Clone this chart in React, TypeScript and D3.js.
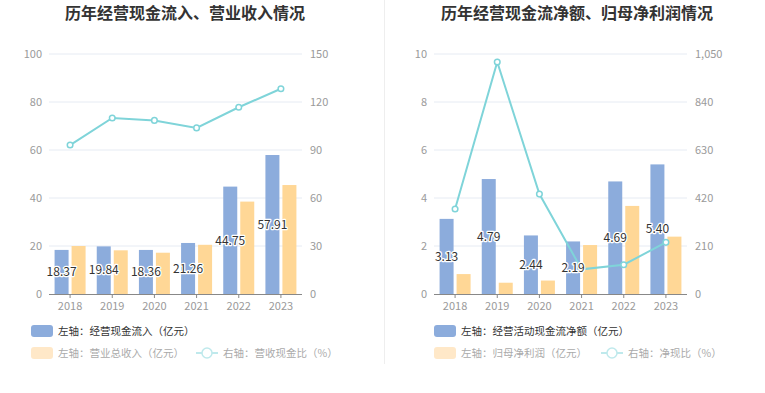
import React from "react";
import * as d3 from "d3";

const years = ["2018", "2019", "2020", "2021", "2022", "2023"];
// Left chart
const cashIn = [18.37, 19.84, 18.36, 21.26, 44.75, 57.91];
const revenue = [20.0, 18.2, 17.2, 20.5, 38.5, 45.4];
const cashRatio = [93.1, 110.0, 108.5, 103.8, 116.7, 128.3];
const leftTicksL = [0, 20, 40, 60, 80, 100];
const leftTicksR = [0, 30, 60, 90, 120, 150];
// Right chart
const netCash = [3.13, 4.79, 2.44, 2.19, 4.69, 5.4];
const netProfit = [0.83, 0.47, 0.56, 2.04, 3.67, 2.39];
const netRatio = [372, 1015, 437, 108, 128, 226];
const rightTicksL = [0, 2, 4, 6, 8, 10];
const rightTicksR = [0, 210, 420, 630, 840, 1050];

const BLUE = "#8cacdc";
const YELLOW = "#ffd796";
const LINE = "#7fd4d9";
const FONT = "'Noto Sans CJK SC', 'Noto Sans', sans-serif";

type PanelProps = {
  title: string;
  titleX: number;
  x0: number;
  x1: number;
  bars1: number[];
  bars2: number[];
  line: number[];
  ticksL: number[];
  ticksR: number[];
  leg1: string;
  leg2: string;
  leg3: string;
  legX: number;
  leg3X: number;
};

function Panel(p: PanelProps) {
  const yTop = 54, yBot = 294;
  const x = d3.scaleBand<string>().domain(years).range([p.x0, p.x1]);
  const yL = d3.scaleLinear().domain([0, p.ticksL[p.ticksL.length - 1]]).range([yBot, yTop]);
  const yR = d3.scaleLinear().domain([0, p.ticksR[p.ticksR.length - 1]]).range([yBot, yTop]);
  const fmt = d3.format(",");
  const bw = 14;
  const cx = (y: string) => (x(y) as number) + x.bandwidth() / 2;
  const lineGen = d3
    .line<number>()
    .x((_, i) => cx(years[i]))
    .y((d) => yR(d));
  return (
    <g fontFamily={FONT}>
      <text x={p.titleX} y={19} textAnchor="middle" fontSize={16} fontWeight="bold" fill="#333">
        {p.title}
      </text>
      {p.ticksL.map((t) => (
        <g key={"g" + t}>
          {t > 0 && (
            <line x1={p.x0} x2={p.x1} y1={yL(t)} y2={yL(t)} stroke="#e6ebf3" strokeWidth={1} />
          )}
          <text x={p.x0 - 7} y={yL(t)} dy="0.35em" textAnchor="end" fontSize={11} fill="#9a9a9a">
            {fmt(t)}
          </text>
        </g>
      ))}
      {p.ticksR.map((t) => (
        <text key={"r" + t} x={p.x1 + 8} y={yR(t)} dy="0.35em" textAnchor="start" fontSize={11} fill="#9a9a9a">
          {fmt(t)}
        </text>
      ))}
      {years.map((yr, i) => (
        <g key={yr}>
          <rect x={cx(yr) - bw - 1.5} y={yL(p.bars1[i])} width={bw} height={yBot - yL(p.bars1[i])} fill={BLUE} />
          <rect x={cx(yr) + 1.5} y={yL(p.bars2[i])} width={bw} height={yBot - yL(p.bars2[i])} fill={YELLOW} />
        </g>
      ))}
      <line x1={p.x0} x2={p.x1} y1={yBot + 0.5} y2={yBot + 0.5} stroke="#888" strokeWidth={1} />
      {years.map((yr) => (
        <g key={"t" + yr}>
          <line x1={cx(yr)} x2={cx(yr)} y1={yBot} y2={yBot + 4} stroke="#888" />
          <text x={cx(yr)} y={306} dy="0.35em" textAnchor="middle" fontSize={11} fill="#9a9a9a">
            {yr}
          </text>
        </g>
      ))}
      <path d={lineGen(p.line) || ""} fill="none" stroke={LINE} strokeWidth={2} />
      {p.line.map((v, i) => (
        <circle key={"c" + i} cx={cx(years[i])} cy={yR(v)} r={2.8} fill="#fff" stroke={LINE} strokeWidth={1.5} />
      ))}
      {years.map((yr, i) => (
        <text
          key={"l" + yr}
          x={cx(yr) - bw / 2 - 1.5}
          y={(yL(p.bars1[i]) + yBot) / 2}
          dy="0.35em"
          textAnchor="middle"
          fontSize={12}
          fill="#333"
          stroke="#fff"
          strokeWidth={2.5}
          paintOrder="stroke"
          strokeLinejoin="round"
        >
          {p.bars1[i].toFixed(2)}
        </text>
      ))}
      {/* legend */}
      <rect x={p.legX} y={325} width={22} height={12} rx={3} fill={BLUE} />
      <text x={p.legX + 27} y={331} dy="0.35em" fontSize={10.5} fill="#333">
        {p.leg1}
      </text>
      <rect x={p.legX} y={347} width={22} height={12} rx={3} fill="#ffe8c8" />
      <text x={p.legX + 27} y={353} dy="0.35em" fontSize={10.5} fill="#aaa">
        {p.leg2}
      </text>
      <line x1={p.leg3X} x2={p.leg3X + 22} y1={353} y2={353} stroke="#bfe9ec" strokeWidth={2} />
      <circle cx={p.leg3X + 11} cy={353} r={5} fill="#fff" stroke="#bfe9ec" strokeWidth={1.5} />
      <text x={p.leg3X + 27} y={353} dy="0.35em" fontSize={10.5} fill="#aaa">
        {p.leg3}
      </text>
    </g>
  );
}

export default function App() {
  return (
    <svg width={765} height={393} style={{ display: "block", position: "absolute", left: 0, top: 0 }}>
      <rect width={765} height={393} fill="#fff" />
      <Panel
        title="历年经营现金流入、营业收入情况"
        titleX={185}
        x0={49}
        x1={302}
        bars1={cashIn}
        bars2={revenue}
        line={cashRatio}
        ticksL={leftTicksL}
        ticksR={leftTicksR}
        leg1="左轴：经营现金流入（亿元）"
        leg2="左轴：营业总收入（亿元）"
        leg3="右轴：营收现金比（%）"
        legX={31}
        leg3X={196}
      />
      <line x1={384.5} x2={384.5} y1={0} y2={364} stroke="#eee" strokeWidth={1} />
      <Panel
        title="历年经营现金流净额、归母净利润情况"
        titleX={577}
        x0={434}
        x1={687}
        bars1={netCash}
        bars2={netProfit}
        line={netRatio}
        ticksL={rightTicksL}
        ticksR={rightTicksR}
        leg1="左轴：经营活动现金流净额（亿元）"
        leg2="左轴：归母净利润（亿元）"
        leg3="右轴：净现比（%）"
        legX={434}
        leg3X={601}
      />
    </svg>
  );
}
